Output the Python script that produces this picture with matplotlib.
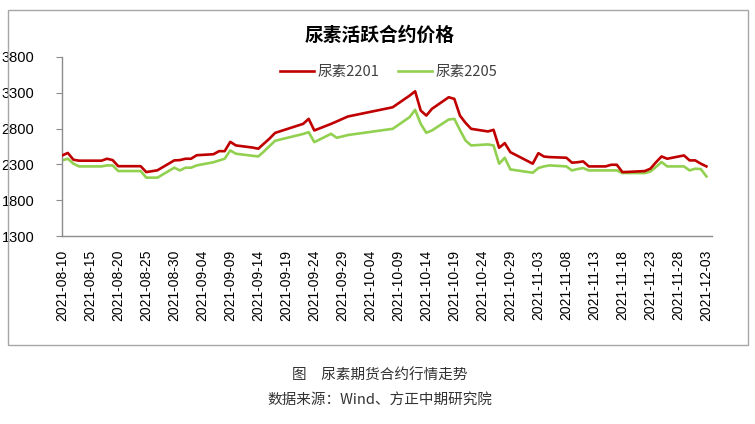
import pandas as pd
import matplotlib
matplotlib.use("Agg")
import matplotlib.pyplot as plt
import matplotlib.dates as mdates
from matplotlib.patches import Rectangle

plt.rcParams['font.family'] = ['Noto Sans CJK SC', 'DejaVu Sans']

# trading days (2021)
dates = [
    '08-10', '08-11', '08-12', '08-13', '08-16', '08-17', '08-18', '08-19', '08-20',
    '08-23', '08-24', '08-25', '08-26', '08-27', '08-30', '08-31',
    '09-01', '09-02', '09-03', '09-06', '09-07', '09-08', '09-09', '09-10',
    '09-13', '09-14', '09-15', '09-16', '09-17', '09-22', '09-23', '09-24',
    '09-27', '09-28', '09-29', '09-30',
    '10-08', '10-11', '10-12', '10-13', '10-14', '10-15', '10-18', '10-19',
    '10-20', '10-21', '10-22', '10-25', '10-26', '10-27', '10-28', '10-29',
    '11-01', '11-02', '11-03', '11-04', '11-05', '11-08', '11-09', '11-10',
    '11-11', '11-12', '11-15', '11-16', '11-17', '11-18', '11-19', '11-22',
    '11-23', '11-24', '11-25', '11-26', '11-29', '11-30',
    '12-01', '12-02', '12-03',
]

urea_2201 = [
    2425, 2460, 2365, 2352, 2352, 2352, 2379, 2360, 2275,
    2275, 2275, 2193, 2205, 2218, 2356, 2360,
    2379, 2379, 2428, 2442, 2485, 2485, 2615, 2565,
    2535, 2519, 2590, 2660, 2740, 2866, 2936, 2774,
    2866, 2900, 2935, 2969,
    3098, 3260, 3321, 3052, 2982, 3076, 3238, 3215,
    2982, 2880, 2797, 2760, 2783, 2532, 2597, 2471,
    2350, 2310, 2457, 2410, 2402, 2393, 2324, 2330,
    2342, 2272, 2272, 2295, 2295, 2193, 2195, 2207,
    2240, 2330, 2411, 2379, 2425, 2356,
    2356, 2310, 2272,
]

urea_2205 = [
    2356, 2379, 2310, 2272, 2272, 2272, 2286, 2286, 2207,
    2207, 2207, 2115, 2115, 2115, 2254, 2216,
    2254, 2254, 2286, 2330, 2355, 2379, 2495, 2449,
    2420, 2411, 2480, 2555, 2630, 2725, 2750, 2611,
    2727, 2672, 2690, 2710,
    2797, 2959, 3062, 2866, 2741, 2774, 2927, 2936,
    2780, 2634, 2565, 2579, 2565, 2310, 2393, 2230,
    2195, 2184, 2249, 2272, 2286, 2272, 2216, 2235,
    2249, 2216, 2216, 2216, 2216, 2179, 2179, 2179,
    2200, 2265, 2333, 2272, 2272, 2216,
    2240, 2235, 2133,
]

x = pd.to_datetime(['2021-' + d for d in dates])
ticks = pd.date_range('2021-08-10', '2021-12-03', freq='5D')

RED = '#C00000'
GREEN = '#92D050'
AXIS_GRAY = '#8C8C8C'

fig = plt.figure(figsize=(7.55, 4.24), dpi=100, facecolor='white')

# outer chart border
fig.patches.append(Rectangle((8 / 755, 1 - 345 / 424), 740 / 755, 335 / 424,
                             transform=fig.transFigure, fill=False,
                             edgecolor='#A6A6A6', linewidth=1.0))

ax = fig.add_axes([62 / 755, 1 - 236 / 424, 650 / 755, 179 / 424])
ax.plot(x, urea_2201, color=RED, linewidth=1.9, label='尿素2201', zorder=3)
ax.plot(x, urea_2205, color=GREEN, linewidth=1.9, label='尿素2205', zorder=2)

ax.set_ylim(1300, 3800)
ax.set_yticks(range(1300, 3801, 500))
ax.set_xlim(x[0] - pd.Timedelta(hours=1), x[-1] + pd.Timedelta(days=1))
ax.set_xticks(ticks)
ax.xaxis.set_major_formatter(mdates.DateFormatter('%Y-%m-%d'))

for lab in ax.get_yticklabels():
    lab.set_family(['Liberation Sans', 'DejaVu Sans'])
    lab.set_fontsize(10.5)
for lab in ax.get_xticklabels():
    lab.set_family(['Liberation Sans', 'DejaVu Sans'])
    lab.set_fontsize(10)
    lab.set_rotation(90)

ax.tick_params(axis='y', length=4, width=0.8, color=AXIS_GRAY, pad=16)
ax.tick_params(axis='x', length=0, pad=10)
for side in ['top', 'right']:
    ax.spines[side].set_visible(False)
for side in ['left', 'bottom']:
    ax.spines[side].set_color(AXIS_GRAY)
    ax.spines[side].set_linewidth(1.0)

leg = ax.legend(loc='center', bbox_to_anchor=(0.503, 0.915), ncol=2, frameon=False,
                fontsize=10.5, handlelength=2.3, handletextpad=0.25, columnspacing=1.3)
for t in leg.get_texts():
    t.set_color('#404040')

fig.text(0.503, 1 - 35 / 424, '尿素活跃合约价格', ha='center', va='center',
         fontsize=13.5, fontweight='bold')
fig.text(0.503, 1 - 376 / 424, '图　尿素期货合约行情走势', ha='center', va='center',
         fontsize=10.5, color='#333333')
fig.text(0.503, 1 - 400 / 424, '数据来源：Wind、方正中期研究院', ha='center', va='center',
         fontsize=10.5, color='#333333')

fig.savefig('out.png', dpi=100, facecolor='white')
